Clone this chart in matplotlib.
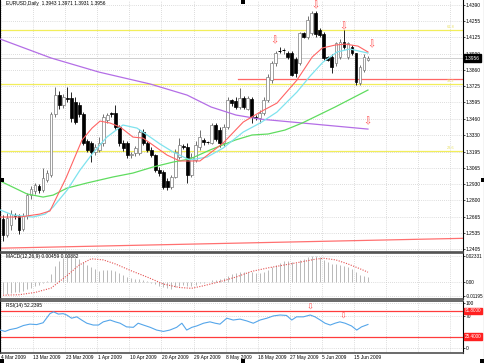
import matplotlib
matplotlib.use('Agg')
import matplotlib.pyplot as plt
from matplotlib.patches import Rectangle
from matplotlib.transforms import blended_transform_factory

plt.rcParams['font.family'] = ['Liberation Sans', 'DejaVu Sans']

# daily bars, 4 Mar 2009 .. 18 Jun 2009 (broker with Sunday bars)
opens = [1.2650, 1.2520, 1.2600, 1.2680, 1.2670, 1.2570, 1.2670, 1.2840, 1.2880, 1.2915,
         1.2885, 1.2965, 1.3005, 1.3505, 1.3655, 1.3575, 1.3630, 1.3628, 1.3600, 1.3575,
         1.3505, 1.3280, 1.3263, 1.3196, 1.3210, 1.3263, 1.3452, 1.3506, 1.3506, 1.3398,
         1.3263, 1.3263, 1.3170, 1.3182, 1.3182, 1.3357, 1.3263, 1.3209, 1.3168, 1.3046,
         1.3033, 1.2960, 1.2911, 1.2992, 1.3155, 1.3243, 1.3235, 1.3010, 1.3127, 1.3230,
         1.3290, 1.3268, 1.3270, 1.3412, 1.3371, 1.3263, 1.3398, 1.3614, 1.3610, 1.3560,
         1.3630, 1.3540, 1.3620, 1.3479, 1.3465, 1.3506, 1.3614, 1.3777, 1.3912, 1.4020,
         1.4015, 1.3993, 1.3993, 1.3950, 1.3912, 1.4156, 1.4128, 1.4156, 1.4318, 1.4183,
         1.4150, 1.3966, 1.3966, 1.3912, 1.3966, 1.4088, 1.3966, 1.4047, 1.3993, 1.3750,
         1.3858, 1.3943]
highs = [1.2680, 1.2700, 1.2720, 1.2700, 1.2690, 1.2700, 1.2860, 1.2920, 1.2940, 1.2930,
         1.3060, 1.3050, 1.3520, 1.3722, 1.3690, 1.3660, 1.3722, 1.3680, 1.3640, 1.3600,
         1.3520, 1.3300, 1.3280, 1.3260, 1.3317, 1.3500, 1.3510, 1.3520, 1.3574, 1.3410,
         1.3290, 1.3280, 1.3190, 1.3240, 1.3380, 1.3380, 1.3280, 1.3230, 1.3180, 1.3070,
         1.3050, 1.2980, 1.3010, 1.3220, 1.3304, 1.3260, 1.3265, 1.3182, 1.3280, 1.3371,
         1.3310, 1.3280, 1.3430, 1.3425, 1.3398, 1.3420, 1.3640, 1.3625, 1.3640, 1.3709,
         1.3650, 1.3650, 1.3640, 1.3490, 1.3530, 1.3640, 1.3830, 1.3930, 1.4010, 1.4047,
         1.4040, 1.4010, 1.4010, 1.3966, 1.4170, 1.4165, 1.4300, 1.4340, 1.4340, 1.4200,
         1.4165, 1.3975, 1.3990, 1.4090, 1.4110, 1.4183, 1.4090, 1.4060, 1.4000, 1.3900,
         1.3985, 1.3971]
lows = [1.2470, 1.2500, 1.2560, 1.2650, 1.2530, 1.2550, 1.2650, 1.2810, 1.2850, 1.2860,
        1.2870, 1.2950, 1.2990, 1.3480, 1.3540, 1.3550, 1.3600, 1.3440, 1.3420, 1.3480,
        1.3250, 1.3190, 1.3115, 1.3170, 1.3190, 1.3240, 1.3430, 1.3480, 1.3380, 1.3240,
        1.3200, 1.3141, 1.3141, 1.3160, 1.3170, 1.3250, 1.3190, 1.3150, 1.3030, 1.3000,
        1.2890, 1.2884, 1.2890, 1.2980, 1.3140, 1.3220, 1.2941, 1.2990, 1.3110, 1.3210,
        1.3250, 1.3260, 1.3255, 1.3280, 1.3235, 1.3240, 1.3380, 1.3570, 1.3540, 1.3545,
        1.3540, 1.3530, 1.3430, 1.3450, 1.3425, 1.3490, 1.3600, 1.3750, 1.3890, 1.3993,
        1.3990, 1.3950, 1.3810, 1.3804, 1.3900, 1.4120, 1.4110, 1.4140, 1.4130, 1.4128,
        1.3940, 1.3930, 1.3831, 1.3890, 1.3950, 1.4030, 1.3950, 1.3980, 1.3740, 1.3735,
        1.3840, 1.3931]
closes = [1.2520, 1.2660, 1.2690, 1.2670, 1.2560, 1.2670, 1.2840, 1.2890, 1.2925, 1.2885,
          1.2980, 1.3020, 1.3505, 1.3655, 1.3575, 1.3640, 1.3620, 1.3466, 1.3440, 1.3505,
          1.3263, 1.3210, 1.3196, 1.3236, 1.3263, 1.3480, 1.3493, 1.3500, 1.3398, 1.3263,
          1.3223, 1.3168, 1.3176, 1.3223, 1.3357, 1.3263, 1.3209, 1.3168, 1.3046, 1.3019,
          1.2911, 1.2911, 1.2992, 1.3196, 1.3250, 1.3236, 1.3006, 1.3150, 1.3250, 1.3317,
          1.3275, 1.3272, 1.3412, 1.3300, 1.3263, 1.3398, 1.3614, 1.3588, 1.3560, 1.3630,
          1.3560, 1.3630, 1.3479, 1.3465, 1.3510, 1.3614, 1.3804, 1.3912, 1.3993, 1.4015,
          1.4020, 1.3966, 1.3820, 1.3831, 1.4156, 1.4128, 1.4264, 1.4318, 1.4150, 1.4140,
          1.3960, 1.3939, 1.3885, 1.4074, 1.4088, 1.4047, 1.4074, 1.3993, 1.3760, 1.3885,
          1.3966, 1.3956]

# moving averages (bar index, price)
ma_red_x = [-0.7, 4.2, 9.2, 11.7, 15.7, 19.7, 22.2, 24.2, 26.7, 29.2, 32.4, 34.9, 37.4, 40.9,
            44.1, 49.1, 54.9, 59.9, 64.1, 68.3, 73.3, 77.1, 79.6, 82.8, 85.3, 88.5, 91.0]
ma_red_y = [1.2665, 1.2665, 1.2689, 1.2714, 1.2981, 1.3290, 1.3387, 1.3444, 1.3428, 1.3396,
            1.3314, 1.3306, 1.3249, 1.3168, 1.3120, 1.3120, 1.3266, 1.3436, 1.3517, 1.3590,
            1.3777, 1.3964, 1.4037, 1.4061, 1.4069, 1.4053, 1.4005]
ma_cyan_x = [-0.7, 2.5, 7.5, 10.5, 12.5, 16.0, 19.2, 22.4, 25.9, 29.9, 33.4, 36.7, 39.2, 42.4,
             46.6, 50.9, 54.9, 59.9, 64.1, 68.3, 73.3, 76.6, 79.8, 83.3, 86.5, 91.0]
ma_cyan_y = [1.2722, 1.2681, 1.2665, 1.2689, 1.2746, 1.2884, 1.3046, 1.3184, 1.3314, 1.3412,
             1.3387, 1.3314, 1.3257, 1.3193, 1.3128, 1.3152, 1.3225, 1.3355, 1.3428, 1.3517,
             1.3680, 1.3810, 1.3923, 1.4005, 1.4029, 1.3996]
ma_green_x = [-0.7, 6.0, 10.0, 12.5, 16.0, 20.9, 27.4, 32.4, 37.4, 42.4, 46.6, 51.6, 57.9,
              62.1, 66.1, 70.3, 74.6, 82.8, 91.0]
ma_green_y = [1.2957, 1.2852, 1.2827, 1.2843, 1.2900, 1.2941, 1.2990, 1.3022, 1.3071, 1.3111,
              1.3136, 1.3209, 1.3290, 1.3331, 1.3339, 1.3371, 1.3428, 1.3558, 1.3696]
ma_purple_x = [-0.7, 12.0, 23.9, 36.7, 45.9, 51.9, 58.1, 64.1, 72.1, 80.0, 91.0]
ma_purple_y = [1.4110, 1.3956, 1.3842, 1.3745, 1.3655, 1.3558, 1.3493, 1.3460, 1.3436,
               1.3412, 1.3379]

# drawn objects
yellow_levels = [1.4187, 1.3749, 1.3201]
yellow_names = ['61.8', '38.2', '23.6']
red_level = 1.3783
red_level_start = 58.6
trend_x = [-0.75, 114.7]
trend_y = [1.2412, 1.2492]
arrow_x = [67.7, 77.8, 84.9, 91.8, 90.9]
arrow_y = [1.4102, 1.4386, 1.4216, 1.4069, 1.3439]

# MACD(12,26,9)
macd_main = [-0.0105, -0.0100, -0.0092, -0.0086, -0.0082, -0.0074, -0.0060, -0.0045, -0.0030, -0.0020,
             -0.0005, 0.0010, 0.0075, 0.0145, 0.0185, 0.0215, 0.0233, 0.0228, 0.0215, 0.0205,
             0.0180, 0.0155, 0.0130, 0.0112, 0.0100, 0.0104, 0.0106, 0.0105, 0.0096, 0.0080,
             0.0064, 0.0048, 0.0035, 0.0026, 0.0030, 0.0022, 0.0010, -0.0002, -0.0016, -0.0028,
             -0.0042, -0.0050, -0.0054, -0.0044, -0.0032, -0.0026, -0.0036, -0.0032, -0.0022, -0.0010,
             -0.0002, 0.0004, 0.0016, 0.0020, 0.0026, 0.0036, 0.0058, 0.0070, 0.0078, 0.0086,
             0.0090, 0.0094, 0.0088, 0.0084, 0.0084, 0.0092, 0.0110, 0.0132, 0.0155, 0.0170,
             0.0182, 0.0188, 0.0180, 0.0170, 0.0190, 0.0202, 0.0218, 0.0230, 0.0226, 0.0218,
             0.0196, 0.0180, 0.0162, 0.0156, 0.0150, 0.0144, 0.0134, 0.0120, 0.0086, 0.0068,
             0.0057, 0.0046]
signal_x = [0, 4, 8, 12, 16, 19, 22, 25, 28, 32, 36, 40, 44, 47, 50, 54, 58, 62, 66, 70,
            74, 78, 80, 83, 86, 89, 91]
signal_y = [-0.0112, -0.0108, -0.0088, -0.0050, 0.0060, 0.0150, 0.0205, 0.0195, 0.0160, 0.0100,
            0.0045, -0.0015, -0.0045, -0.0052, -0.0030, 0.0005, 0.0045, 0.0095, 0.0125, 0.0150,
            0.0175, 0.0202, 0.0209, 0.0195, 0.0160, 0.0118, 0.0088]

# RSI(14)
rsi_x = [-0.7, 0.5, 1.7, 3.4, 5.1, 6.7, 8.4, 10.0, 11.7, 12.6, 13.8, 15.0, 15.9, 17.1, 18.4,
         19.6, 20.9, 22.5, 23.8, 25.0, 26.7, 28.0, 29.2, 30.8, 32.5, 33.7, 35.0, 36.7, 38.3,
         40.0, 41.6, 43.3, 44.6, 45.8, 47.1, 48.3, 50.0, 51.6, 52.9, 54.1, 55.8, 57.4, 59.1,
         60.8, 62.4, 64.1, 65.8, 67.4, 69.1, 70.7, 72.0, 73.2, 74.9, 76.6, 77.8, 79.1, 80.3,
         81.6, 82.8, 84.0, 85.3, 86.9, 88.2, 89.4, 91.0]
rsi_y = [40, 37, 41, 44, 50, 53, 52, 56, 76, 80, 75, 76, 73, 66, 69,
         62, 55, 51, 51, 58, 62, 58, 55, 47, 46, 55, 51, 46, 40,
         37, 40, 46, 55, 40, 46, 49, 55, 58, 55, 53, 66, 62, 64,
         60, 55, 62, 66, 71, 73, 72, 62, 69, 69, 73, 69, 62, 55,
         51, 55, 58, 55, 49, 40, 47, 52.24]
rsi_levels = [81.8, 25.4]
rsi_arrow_x = [76.6, 84.9]
rsi_arrow_y = [91, 71]

price_ticks = [1.4390, 1.4255, 1.4125, 1.3990, 1.3860, 1.3725, 1.3595, 1.3460,
               1.3330, 1.3195, 1.3065, 1.2930, 1.2800, 1.2665, 1.2535, 1.2405]
date_bars = [0, 8, 16, 24, 32, 40, 48, 56, 64, 72, 80, 88]
date_labels = ['4 Mar 2009', '13 Mar 2009', '23 Mar 2009', '1 Apr 2009', '10 Apr 2009',
               '20 Apr 2009', '29 Apr 2009', '8 May 2009', '18 May 2009', '27 May 2009',
               '5 Jun 2009', '15 Jun 2009']

W, H = 485, 364
XLIM = (-0.75, 114.7)
GRID = dict(color='#bdbdbd', linestyle=(0, (1, 2)), linewidth=0.5)
FS = 3.5


def px_rect(x0, y0, x1, y1):
    return [x0 / W, 1 - y1 / H, (x1 - x0) / W, (y1 - y0) / H]


def setup_panel(ax, ticks, labels, size=FS):
    ax.set_xlim(*XLIM)
    ax.set_xticks([b - 0.5 for b in date_bars] + [95.5, 103.5, 111.5])
    ax.tick_params(axis='x', length=0, labelbottom=False)
    ax.yaxis.tick_right()
    ax.set_yticks(ticks)
    ax.set_yticklabels(labels)
    ax.tick_params(axis='y', length=1.5, width=0.5, pad=0.6, labelsize=size, colors='black')
    ax.grid(True, **GRID)
    ax.set_axisbelow(True)
    for s in ('top', 'bottom'):
        ax.spines[s].set_color('#505050')
        ax.spines[s].set_linewidth(1.2)
    ax.spines['left'].set_color('black')
    ax.spines['left'].set_linewidth(1.5)
    ax.spines['right'].set_color('black')
    ax.spines['right'].set_linewidth(0.8)


fig = plt.figure(figsize=(W / 100, H / 100), dpi=100)
ax = fig.add_axes(px_rect(0, 0, 463, 252))
ax_macd = fig.add_axes(px_rect(0, 253, 463, 299))
ax_rsi = fig.add_axes(px_rect(0, 300.5, 463, 352.5))

# ---- main price panel
setup_panel(ax, price_ticks, ['%.4f' % t for t in price_ticks])
ax.spines['top'].set_visible(False)
ax.set_ylim(1.2381, 1.4427)

for lvl, name in zip(yellow_levels, yellow_names):
    ax.axhline(lvl, color='#f2ee5a', lw=0.9, zorder=1)
    ax.text(112.5, lvl + 0.0008, name, color='#e8e060', fontsize=2.8, ha='right', va='bottom')
ax.plot([red_level_start, XLIM[1]], [red_level, red_level], color='#ff6666', lw=0.9, zorder=1)
ax.plot(trend_x, trend_y, color='#ff7070', lw=0.9, zorder=1)
ax.axhline(closes[-1], color='#c8c8c8', lw=0.6, zorder=1)

w = 0.68
for i, (o, h, l, c) in enumerate(zip(opens, highs, lows, closes)):
    bull = c >= o
    ax.vlines(i, l, h, color='#5a5a5a' if bull else 'black', lw=0.6, zorder=2)
    if abs(c - o) < 0.0005:
        ax.hlines(c, i - w / 2, i + w / 2, color='black', lw=0.7, zorder=3)
    else:
        ax.add_patch(Rectangle((i - w / 2, min(o, c)), w, abs(c - o),
                               facecolor='white' if bull else 'black',
                               edgecolor='#7a7a7a' if bull else 'black',
                               lw=0.5, zorder=3))

ax.plot(ma_purple_x, ma_purple_y, color='#b46ee6', lw=0.9, zorder=4)
ax.plot(ma_green_x, ma_green_y, color='#5fdc5f', lw=0.9, zorder=4)
ax.plot(ma_cyan_x, ma_cyan_y, color='#7fe3ee', lw=0.9, zorder=4)
ax.plot(ma_red_x, ma_red_y, color='#ff6464', lw=0.8, zorder=4)

for x, y in zip(arrow_x, arrow_y):
    ax.text(x, y, '\u21e9', color='#ff5050', fontsize=7, ha='center', va='center',
            family='DejaVu Sans', zorder=5)

ax.text(0.8, 1.4395, 'EURUSD,Daily  1.3943 1.3971 1.3931 1.3956', fontsize=FS,
        ha='left', va='center', color='black')

yx = blended_transform_factory(ax.transAxes, ax.transData)
ax.text(1.004, closes[-1], '%.4f' % closes[-1], transform=yx, fontsize=FS, color='white',
        ha='left', va='center', zorder=6,
        bbox=dict(boxstyle='square,pad=0.25', facecolor='black', edgecolor='black'))

# ---- MACD panel
setup_panel(ax_macd, [0.02331, 0.0, -0.01195], ['0.02331', '0.00', '-0.01195'], size=3.3)
ax_macd.set_ylim(-0.0145, 0.0255)
ax_macd.vlines(range(len(macd_main)), 0, macd_main, color='#b8b8b8', lw=0.7, zorder=2)
ax_macd.plot(signal_x, signal_y, color='#e45050', lw=0.8, linestyle=(0, (1, 1.3)), zorder=3)
ax_macd.text(0.8, 0.0222, 'MACD(12,26,9) 0.00459 0.00882', fontsize=FS, ha='left',
             va='center', color='black')

# ---- RSI panel
setup_panel(ax_rsi, [100, 70, 0], ['100', '70', '0'])
ax_rsi.set_ylim(-9.2, 104.8)
ryx = blended_transform_factory(ax_rsi.transAxes, ax_rsi.transData)
for lvl in rsi_levels:
    ax_rsi.axhline(lvl, color='#ff3c3c', lw=0.9, zorder=2)
    ax_rsi.text(1.004, lvl, '%.4f' % lvl, transform=ryx, fontsize=3.3, color='white',
                ha='left', va='center', zorder=6,
                bbox=dict(boxstyle='square,pad=0.2', facecolor='#ff2020', edgecolor='#ff2020'))
ax_rsi.plot(rsi_x, rsi_y, color='#55a6ea', lw=0.8, zorder=3)
for x, y in zip(rsi_arrow_x, rsi_arrow_y):
    ax_rsi.text(x, y, '\u21e9', color='#ff5050', fontsize=6, ha='center', va='center',
                family='DejaVu Sans', zorder=5)
ax_rsi.text(0.8, 94, 'RSI(14) 52.2395', fontsize=FS, ha='left', va='center', color='black')

# date labels under the last panel
dx = blended_transform_factory(ax_rsi.transData, fig.transFigure)
for b, lab in zip(date_bars, date_labels):
    ax_rsi.text(b - 0.4, 1 - 357.5 / H, lab, transform=dx, fontsize=FS, ha='left',
                va='center', color='black', clip_on=False)

# window frame and MT4 scroll markers
fig.add_artist(plt.Line2D([484 / W, 484 / W], [0, 1], color='#404040', lw=0.8))
for (mx, my) in [(0, 178), (481, 178), (241, 0), (241, 359), (0, 359), (480, 359)]:
    fig.add_artist(Rectangle((mx / W, 1 - (my + 4) / H), 4 / W, 4 / H,
                             facecolor='black', edgecolor='none'))

fig.savefig('out.png', dpi=100, facecolor='white')
